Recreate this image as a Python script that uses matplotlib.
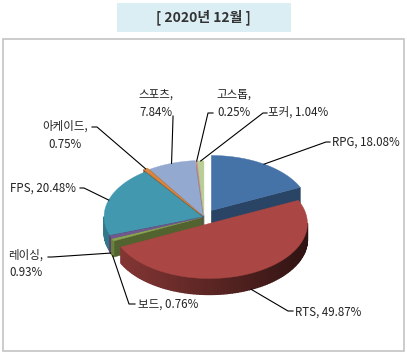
import numpy as np
import matplotlib
matplotlib.use('Agg')
import matplotlib.pyplot as plt
from matplotlib.patches import Polygon, Rectangle
import matplotlib.colors as mcolors

plt.rcParams['font.family'] = ['Noto Sans CJK KR', 'DejaVu Sans']

title = '[ 2020년 12월 ]'
categories = ['RPG', 'RTS', '보드', '레이싱', 'FPS', '아케이드', '스포츠', '고스톱', '포커']
shares = [18.08, 49.87, 0.76, 0.93, 20.48, 0.75, 7.84, 0.25, 1.04]
colors = ['#4572A7', '#AA4643', '#89A54E', '#71588F', '#4198AF',
          '#DB843D', '#93A9CF', '#D19392', '#B9CD96']
explode = [0.14, 0.13, 0.02, 0.02, 0.02, 0.06, 0.03, 0.02, 0.02]

# label layout: (x, y, ha, two_lines, elbow, end)
label_layout = {
    'RPG': (332, 142, 'left', False, (326, 142), (330, 142)),
    'RTS': (295, 312, 'left', False, (288, 311), (293, 311)),
    '보드': (138, 304, 'left', False, (129, 304), (135, 304)),
    '레이싱': (26, 255, 'center', True, (52, 257), (48, 257)),
    'FPS': (10, 188, 'left', False, (84, 188), (80, 188)),
    '아케이드': (65, 126, 'center', True, (97, 127), (92, 127)),
    '스포츠': (156, 94, 'center', True, (173, 118), (173, 116)),
    '고스톱': (234, 94, 'center', True, (208, 113), (213, 113)),
    '포커': (268, 112, 'left', False, (263, 113), (267, 113)),
}

W, H = 407, 355
fig = plt.figure(figsize=(W / 100, H / 100), dpi=100)
ax = fig.add_axes([0, 0, 1, 1])
ax.set_xlim(0, W)
ax.set_ylim(H, 0)
ax.axis('off')

# frame and title box
ax.add_patch(Rectangle((3, 39), 401, 312, facecolor='white', edgecolor='#c3c3c3', lw=1.2, zorder=0))
ax.add_patch(Rectangle((117, 3), 174, 29, facecolor='#DBEEF4', edgecolor='none', zorder=0))
ax.text(203, 17.5, title, ha='center', va='center', fontsize=10, fontweight='bold', color='#333333')

cx, cy, rx, ry, depth = 204, 217, 98, 55, 16


def shade(c, f):
    r, g, b = mcolors.to_rgb(c)
    return (r * f, g * f, b * f)


def pt(theta, r, ox, oy, dz=0.0):
    return (cx + ox + r * rx * np.sin(theta), cy + oy - r * ry * np.cos(theta) + dz)


total = sum(shares)
fracs = np.array(shares) / total
starts = np.concatenate([[0], np.cumsum(fracs)[:-1]]) * 2 * np.pi
ends = np.cumsum(fracs) * 2 * np.pi

walls = []  # (frontness, polygon pts, color, lw)
tops = []
anchors = []
for i, cat in enumerate(categories):
    a, b = starts[i], ends[i]
    m = (a + b) / 2
    ox = explode[i] * rx * np.sin(m)
    oy = -explode[i] * ry * np.cos(m)
    # top face
    th = np.linspace(a, b, max(3, int((b - a) / 0.01)))
    top = [(cx + ox, cy + oy)] + [pt(t, 1, ox, oy) for t in th]
    tops.append((top, colors[i]))
    # outer wall, front half only
    lo, hi = max(a, np.pi / 2), min(b, 3 * np.pi / 2)
    if hi > lo:
        n = max(2, int((hi - lo) / 0.03))
        tt = np.linspace(lo, hi, n + 1)
        for k in range(n):
            t0, t1 = tt[k], tt[k + 1]
            tm = (t0 + t1) / 2
            f = 0.80 - 0.52 * (np.sin(tm) + 1) / 2
            poly = [pt(t0, 1, ox, oy), pt(t1, 1, ox, oy),
                    pt(t1, 1, ox, oy, depth), pt(t0, 1, ox, oy, depth)]
            walls.append((-np.cos(tm) * 1.0, poly, shade(colors[i], f), 1.0))
    # radial faces
    if np.sin(a) < -1e-9:
        poly = [(cx + ox, cy + oy), pt(a, 1, ox, oy), pt(a, 1, ox, oy, depth),
                (cx + ox, cy + oy + depth)]
        walls.append((-np.cos(a) * 0.5, poly, shade(colors[i], 0.6), 0.4))
    if np.sin(b) > 1e-9:
        poly = [(cx + ox, cy + oy), pt(b, 1, ox, oy), pt(b, 1, ox, oy, depth),
                (cx + ox, cy + oy + depth)]
        walls.append((-np.cos(b) * 0.5, poly, shade(colors[i], 0.6), 0.4))
    dz = depth if np.cos(m) < 0 else 0
    anchors.append(pt(m, 1, ox, oy, dz))

for _, poly, c, lw in sorted(walls, key=lambda w: w[0]):
    ax.add_patch(Polygon(poly, closed=True, facecolor=c, edgecolor=c, lw=lw, zorder=2))
for poly, c in tops:
    ax.add_patch(Polygon(poly, closed=True, facecolor=c, edgecolor=c, lw=0.3, zorder=3))

# labels and leader lines
for i, cat in enumerate(categories):
    x, y, ha, two, elbow, end = label_layout[cat]
    val = f'{shares[i]:.2f}%'
    ax_, ay_ = anchors[i]
    ax.plot([ax_, elbow[0], end[0]], [ay_, elbow[1], end[1]], color='black', lw=0.8, zorder=4)
    if two:
        ax.text(x, y, cat + ',', ha=ha, va='center', fontsize=8.3, color='#222222', zorder=5)
        ax.text(x, y + 18, val, ha=ha, va='center', fontsize=8.3, color='#222222', zorder=5)
    else:
        ax.text(x, y, f'{cat}, {val}', ha=ha, va='center', fontsize=8.3, color='#222222', zorder=5)

fig.savefig('out.png', dpi=100)
